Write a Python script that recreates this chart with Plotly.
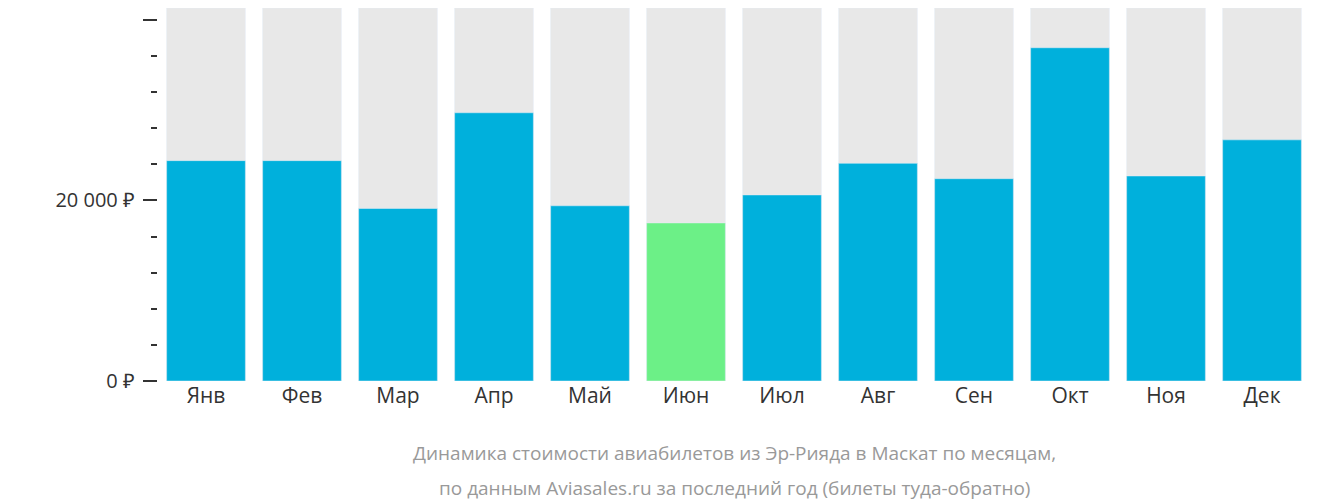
import plotly.graph_objects as go

months = ["Янв","Фев","Мар","Апр","Май","Июн","Июл","Авг","Сен","Окт","Ноя","Дек"]
prices = [24400, 24400, 19100, 29700, 19400, 17500, 20600, 24100, 22400, 36900, 22700, 26700]
ymax = 41300
tick_vals = [0, 20000, 40000]
tick_text = ["0 ₽", "20 000 ₽", "40 000 ₽"]
caption = ["Динамика стоимости авиабилетов из Эр-Рияда в Маскат по месяцам,",
           "по данным Aviasales.ru за последний год (билеты туда-обратно)"]

colors = ["#6cf087" if p == min(prices) else "#00b0dc" for p in prices]

fig = go.Figure()
fig.add_bar(x=months, y=[ymax]*len(months), marker_color="#e8e8e8", hoverinfo="skip")
fig.add_bar(x=months, y=prices, marker_color=colors)
fig.update_layout(
    barmode="overlay", bargap=0.18, showlegend=False,
    width=1332, height=502, margin=dict(l=150, r=30, t=0, b=129, autoexpand=False),
    plot_bgcolor="white", paper_bgcolor="white",
    font=dict(family="Open Sans", size=20, color="#333"),
    xaxis=dict(showgrid=False, showline=False, ticks="", tickfont=dict(size=21)),
    yaxis=dict(range=[0, ymax], showgrid=False, zeroline=False, tickvals=tick_vals, ticktext=tick_text,
               ticks="outside", ticklen=14, tickcolor="#333", tickwidth=2, ticklabelstandoff=4,
               minor=dict(dtick=4000, ticks="outside", ticklen=6, tickcolor="#333", tickwidth=2),
               tickfont=dict(size=20)),
    annotations=[dict(text=t, x=0.5, y=-72/373 - i*35/373, xref="paper", yref="paper",
                      xanchor="center", yanchor="middle", showarrow=False,
                      font=dict(size=19, color="#999")) for i, t in enumerate(caption)],
)
fig.write_html("out.html")
